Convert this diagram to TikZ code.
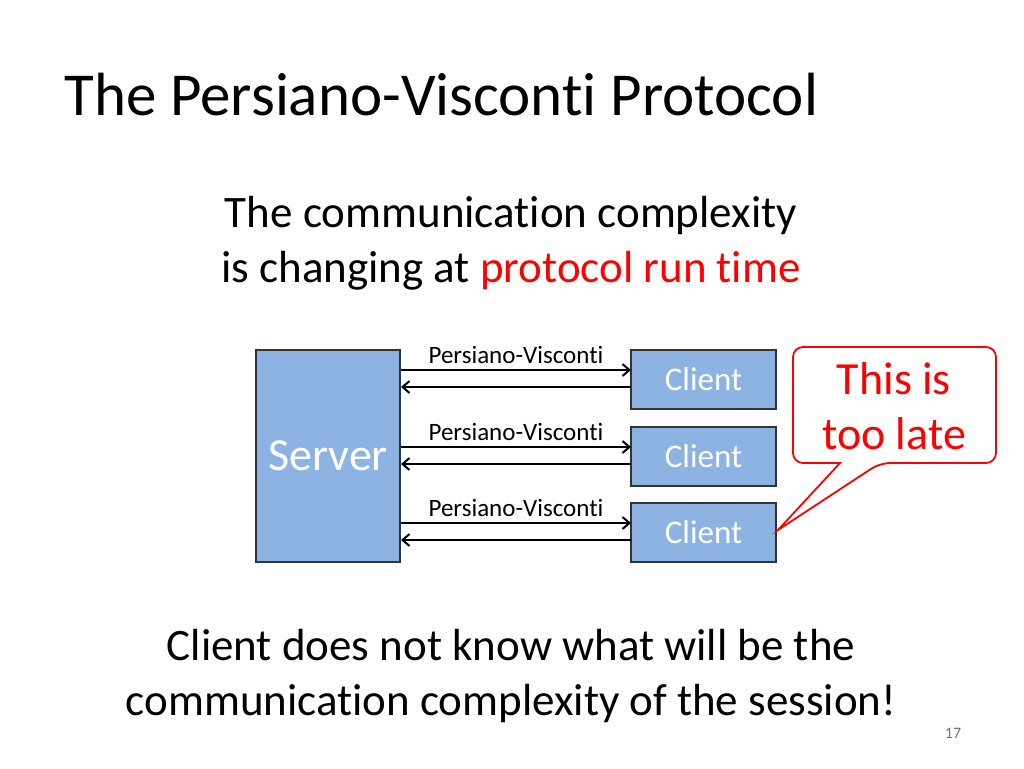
\documentclass[tikz,border=0pt]{standalone}
\usepackage{fontspec}
\setmainfont{Carlito}[Ligatures=NoCommon]
\usetikzlibrary{arrows.meta}
\definecolor{boxblue}{HTML}{8DB3E2}
\definecolor{alert}{HTML}{FF0000}
\tikzset{
	box/.style={draw=black!80,fill=boxblue,line width=1.4pt,text=white},
	client/.style={box,minimum width=145pt,minimum height=59pt,font=\fontsize{33}{35}\selectfont},
	msg/.style={font=\fontsize{25}{27}\selectfont,anchor=south}
}
\begin{document}
\begin{tikzpicture}[x=1pt,y=-1pt,->,>={Straight Barb[length=7pt,width=12pt]},line width=2pt]
	\useasboundingbox (0,0) rectangle (1024,768);
	\node [anchor=base west,font=\fontsize{61}{64}\selectfont] (title) at (60,115) {The Persiano-Visconti Protocol};
	\node [align=center,font=\fontsize{45}{55}\selectfont] (sub) at (511,243)
		{The communication complexity\\is changing at \textcolor{alert}{protocol run time}};
	\node [box,minimum width=144pt,minimum height=212pt,font=\fontsize{46}{48}\selectfont] (server) at (328,456) {Server};
	\node [client] (c1) at (703.5,379.5) {Client};
	\node [client] (c2) at (703.5,456.5) {Client};
	\node [client] (c3) at (703.5,532.5) {Client};
	\foreach \i/\y in {1/370,2/447,3/523}{
		\coordinate (sl\i) at (401,\y);
		\coordinate (cl\i) at (631,\y);
		\coordinate (sr\i) at (401,\y+17);
		\coordinate (cr\i) at (631,\y+17);
		\draw (sl\i) -- (cl\i) node [msg,midway,yshift=2pt] (m\i) {Persiano-Visconti};
		\draw (cr\i) -- (sr\i);
	}
	% callout
	\draw [-,draw=alert,fill=white,line width=1.8pt,rounded corners=10pt]
		(793,347) -- (996,347) -- (996,463) -- (880,463) [sharp corners] -- (778,530) -- (840,463) [rounded corners=10pt] -- (793,463) -- cycle;
	\node [align=center,text=alert,font=\fontsize{46}{55}\selectfont] (note) at (894,406) {This is\\too late};
	\node [align=center,font=\fontsize{45}{55}\selectfont] (bottom) at (511,676)
		{Client does not know what will be the\\communication complexity of the session!};
	\node [text=black!55,font=\fontsize{16}{18}\selectfont] (page) at (953,733) {17};
\end{tikzpicture}
\end{document}
